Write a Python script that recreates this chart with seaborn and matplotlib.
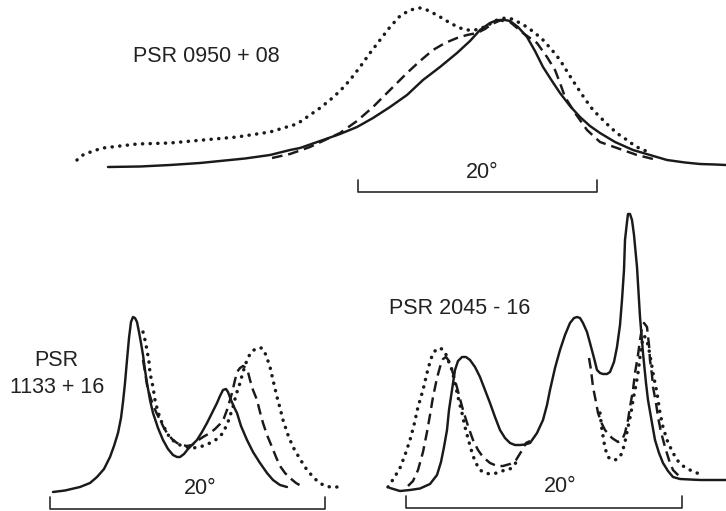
import matplotlib
matplotlib.use("Agg")
import matplotlib.pyplot as plt
import seaborn as sns

sns.set_theme(style="white")
plt.rcParams["font.family"] = ["Liberation Sans", "DejaVu Sans"]

# Integrated pulse profiles at three frequencies (solid, dashed, dotted),
# traced in the page frame of the figure (x to the right, y downwards).

# ---- PSR 0950+08 -------------------------------------------------------
p0950_solid_x = [108, 140, 170, 200, 220, 245, 270, 290, 300, 323, 340, 357, 373, 390, 407, 423,
                 440, 457, 470, 480, 490, 496, 500, 505, 510, 518, 527, 535, 543, 552, 560, 570,
                 580, 590, 600, 615, 633, 650, 667, 685, 700, 715, 726]
p0950_solid_y = [167, 166.5, 165, 163, 161, 158.5, 155, 150, 148, 140, 134, 127, 118, 107, 95, 80,
                 67, 53, 41, 30, 23, 20.5, 20, 20, 21, 27, 37, 51, 67, 81, 93, 106,
                 117, 126, 133, 142, 150, 155, 160, 162.5, 164, 164.5, 165]

p0950_dash_x = [272, 290, 310, 325, 340, 357, 373, 390, 407, 420, 433, 445, 457, 467, 477, 485,
                492, 500, 510, 523, 537, 547, 555, 560, 565, 575, 587, 600, 617, 637, 653, 657]
p0950_dash_y = [158, 154, 147, 140, 133, 121, 107, 90, 73, 61, 50, 43, 38, 35, 33, 29,
                24, 20.5, 22, 33, 43, 57, 70, 83, 97, 113, 130, 142, 148, 155, 159, 160]

p0950_dot_x = [77, 83, 93, 103, 120, 137, 170, 203, 237, 270, 290, 297, 310, 320, 330, 340, 350,
               360, 370, 380, 390, 400, 410, 420, 427, 433, 442, 450, 460, 467, 475, 482, 490,
               497, 505, 512, 520, 527, 535, 543, 552, 560, 568, 577, 585, 593, 602, 610, 618,
               627, 635, 643, 650]
p0950_dot_y = [160, 155, 151, 148, 146, 144, 143, 140, 137, 132, 126, 124, 115, 108, 100, 91, 80,
               67, 53, 40, 27, 16, 10, 8, 10, 13, 18, 23, 28, 30, 30, 28, 24,
               20, 18, 19, 23, 27, 33, 40, 50, 60, 73, 87, 99, 110, 119, 127, 134,
               140, 146, 150, 152]

# ---- PSR 1133+16 -------------------------------------------------------
p1133_solid_x = [53, 65, 80, 90, 97, 104, 110, 114, 118, 121, 123, 125, 127, 129, 131, 133, 135,
                 137, 139, 141, 143, 145, 147, 150, 153, 158, 163, 168, 173, 177, 180, 184, 188,
                 192, 197, 202, 207, 212, 217, 220, 223, 226, 228, 231, 234, 237, 241, 247, 253,
                 260, 267, 273, 280, 287]
p1133_solid_y = [492, 490.5, 487, 483, 477, 469, 457, 446, 433, 418, 402, 383, 360, 338, 322, 317, 318,
                 322, 332, 343, 355, 370, 383, 400, 413, 428, 440, 449, 455, 457, 457, 454, 449,
                 445, 440, 432, 423, 413, 403, 396, 390, 389, 392, 400, 407, 413, 426, 440, 452,
                 463, 473, 480, 485, 487]

p1133_dash_x = [143, 145, 147, 150, 153, 157, 160, 164, 167, 172, 177, 182, 187, 192, 197, 203, 210,
                215, 220, 224, 227, 230, 232, 235, 237, 240, 243, 246, 248, 250, 253, 257, 260,
                263, 267, 272, 276, 280, 285, 290, 296, 303]
p1133_dash_y = [360, 372, 385, 396, 405, 414, 420, 428, 433, 439, 443, 445, 446, 445, 441, 437, 433,
                429, 424, 418, 410, 400, 393, 380, 372, 368, 366, 368, 372, 380, 390, 400, 412,
                423, 435, 447, 457, 466, 473, 478, 483, 487]

p1133_dot_x = [143, 145, 147, 149, 150, 153, 155, 158, 162, 166, 170, 175, 180, 187, 193, 200, 210,
               217, 223, 228, 233, 236, 240, 243, 247, 251, 257, 262, 266, 270, 273, 277, 280,
               283, 288, 293, 300, 307, 315, 323, 330, 337]
p1133_dot_y = [332, 340, 350, 362, 373, 387, 400, 412, 423, 431, 438, 442, 445, 447, 448, 447, 443,
               439, 433, 422, 407, 395, 383, 372, 360, 352, 348, 348, 355, 367, 380, 397, 408,
               420, 435, 447, 459, 470, 479, 485, 487, 487]

# ---- PSR 2045-16 -------------------------------------------------------
p2045_solid_x = [390, 400, 410, 420, 430, 437, 441, 444, 447, 449, 452, 455, 458, 462, 466, 470, 475,
                 480, 485, 490, 495, 500, 505, 510, 515, 520, 525, 530, 537, 543, 547, 550, 555,
                 560, 565, 570, 574, 577, 580, 583, 587, 590, 594, 597, 600, 603, 607, 610, 614,
                 617, 620, 622, 624, 625, 627, 628, 630, 632, 634, 637, 640, 643, 646, 648, 652,
                 655, 659, 663, 668, 673, 680, 690, 700, 710, 726]
p2045_solid_y = [488, 491, 490, 488.5, 484, 475, 462, 447, 430, 410, 390, 370, 361, 357, 357, 360, 367,
                 377, 390, 403, 417, 430, 438, 443, 445, 445, 444.5, 443, 433, 420, 405, 390, 368,
                 350, 335, 323, 318, 317, 318, 323, 332, 343, 358, 370, 373, 374, 374, 372, 362,
                 347, 325, 300, 270, 240, 222, 214, 214, 220, 235, 267, 317, 353, 383, 400, 423,
                 440, 453, 463, 471, 477, 479, 479.5, 480, 480, 480]

p2045_dash_a_x = [408, 413, 418, 423, 427, 430, 433, 437, 440, 443, 446, 449, 452, 455, 459, 463, 468,
                  473, 478, 483, 490, 497, 503, 510, 516, 521, 526, 530]
p2045_dash_a_y = [486, 481, 470, 452, 432, 415, 397, 378, 367, 359, 357, 361, 370, 380, 395, 410, 426,
                  440, 450, 457, 463, 466, 466, 464, 460, 452, 443, 441]
p2045_dash_b_x = [589, 591, 593, 596, 598, 602, 605, 612, 618, 622, 625, 628, 630, 633, 635, 638, 640,
                  642, 644, 647, 649, 650, 652, 653, 656, 658, 661, 665, 669, 673, 680]
p2045_dash_b_y = [358, 370, 387, 402, 413, 424, 430, 438, 442, 440, 433, 420, 407, 390, 373, 355, 340,
                  328, 323, 327, 345, 360, 375, 387, 403, 417, 432, 447, 460, 470, 477]

p2045_dot_a_x = [388, 394, 400, 405, 410, 414, 418, 423, 427, 430, 433, 438, 442, 445, 448, 452, 455,
                 458, 462, 465, 469, 473, 477, 480, 485, 490, 497, 505, 510, 515, 518]
p2045_dot_a_y = [487, 478, 468, 455, 440, 425, 407, 390, 373, 362, 353, 348, 349, 352, 360, 370, 383,
                 397, 413, 427, 442, 456, 465, 470, 473, 474, 473, 470, 469, 464, 459]
p2045_dot_b_x = [600, 602, 605, 608, 612, 615, 619, 622, 625, 628, 631, 633, 636, 638, 640, 642, 644,
                 646, 648, 650, 653, 655, 657, 660, 663, 667, 672, 677, 683, 690, 697, 703]
p2045_dot_b_y = [413, 430, 448, 457, 460, 460, 458, 453, 442, 427, 413, 400, 385, 373, 357, 343, 336,
                 338, 345, 355, 373, 383, 393, 413, 427, 440, 451, 460, 466, 470, 473, 475]

# 20 degree longitude scale bars: ends, tick top and bar level
scale_bars = {
    "0950": dict(x=[358, 358, 597, 597], y=[180, 192, 192, 180], label=(482, 172.5)),
    "1133": dict(x=[50, 50, 325, 325], y=[497, 509, 509, 497], label=(200, 488.5)),
    "2045": dict(x=[406, 406, 682, 682], y=[496, 508, 508, 496], label=(560, 486)),
}
scale_text = "20\u00b0"

ink = "#1a1a1a"
solid_kw = dict(color=ink, linewidth=1.75, linestyle="-", solid_capstyle="round")
dash_kw = dict(color=ink, linewidth=1.75, linestyle=(0, (4.4, 2.4)), dash_capstyle="butt")
dot_kw = dict(color=ink, linewidth=2.5, linestyle=(0, (0.05, 2.15)), dash_capstyle="round")

fig = plt.figure(figsize=(7.26, 5.11), dpi=100)
ax = fig.add_axes([0, 0, 1, 1])
ax.set_xlim(0, 726)
ax.set_ylim(511, 0)
ax.axis("off")


def trace(x, y, kw):
    sns.lineplot(x=x, y=y, sort=False, estimator=None, ax=ax, legend=False, **kw)


trace(p0950_solid_x, p0950_solid_y, solid_kw)
trace(p0950_dash_x, p0950_dash_y, dash_kw)
trace(p0950_dot_x, p0950_dot_y, dot_kw)

trace(p1133_solid_x, p1133_solid_y, solid_kw)
trace(p1133_dash_x, p1133_dash_y, dash_kw)
trace(p1133_dot_x, p1133_dot_y, dot_kw)

trace(p2045_solid_x, p2045_solid_y, solid_kw)
trace(p2045_dash_a_x, p2045_dash_a_y, dash_kw)
trace(p2045_dash_b_x, p2045_dash_b_y, dash_kw)
trace(p2045_dot_a_x, p2045_dot_a_y, dot_kw)
trace(p2045_dot_b_x, p2045_dot_b_y, dot_kw)

bar_kw = dict(color="#2a2a2a", linewidth=1.2, linestyle="-")
for bar in scale_bars.values():
    trace(bar["x"], bar["y"], bar_kw)
    ax.text(*bar["label"], scale_text, ha="center", va="center", fontsize=15.5, color="#222222")

label_kw = dict(ha="center", va="center", fontsize=15.5, color="#222222")
ax.text(206.5, 56.5, "PSR 0950 + 08", **label_kw)
ax.text(56, 361, "PSR", **label_kw)
ax.text(57, 387.5, "1133 + 16", **label_kw)
ax.text(460, 308.5, "PSR 2045 - 16", **label_kw)

fig.savefig("out.png", dpi=100, facecolor="white")
